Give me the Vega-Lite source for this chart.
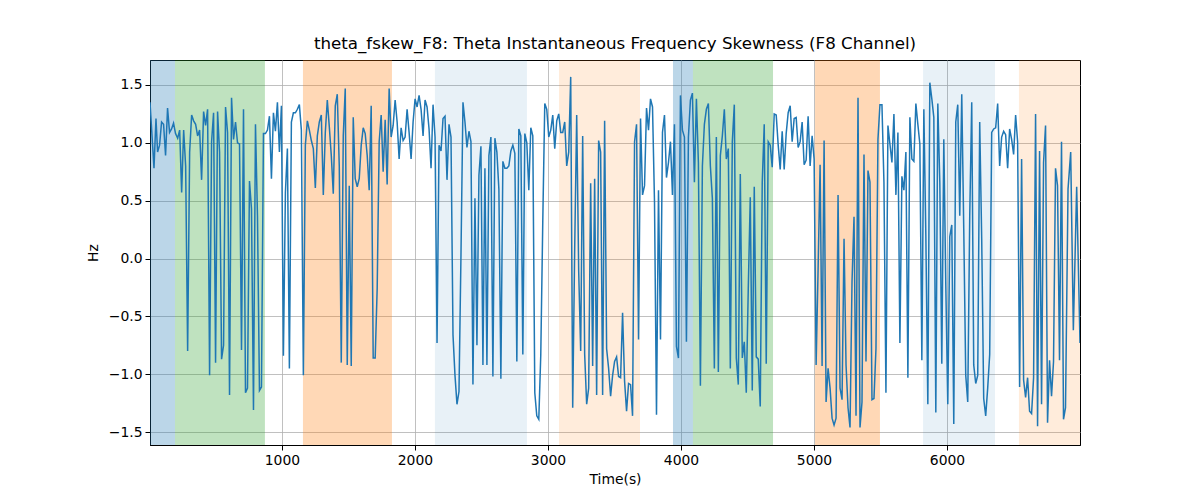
{
 "$schema": "https://vega.github.io/schema/vega-lite/v6.json",
 "width": 930, "height": 385,
 "autosize": "none",
 "padding": {"left": 150, "top": 60, "right": 120, "bottom": 55},
 "background": "white",
 "title": {"text": "theta_fskew_F8: Theta Instantaneous Frequency Skewness (F8 Channel)", "font": "DejaVu Sans", "fontSize": 16.7, "fontWeight": "normal", "color": "black", "offset": 7},
 "config": {
  "view": {"stroke": "black", "strokeWidth": 1},
  "axis": {"labelFont": "DejaVu Sans", "labelFontSize": 13.9, "labelColor": "black", "titleFont": "DejaVu Sans", "titleFontSize": 13.9, "titleFontWeight": "normal", "titleColor": "black", "tickColor": "black", "tickSize": 5, "domainColor": "black", "gridColor": "#b0b0b0", "gridWidth": 0.8, "labelPadding": 3}
 },
 "datasets": {
  "regions": [
   {"start": 8, "end": 196, "kind": "a"},
   {"start": 196, "end": 872, "kind": "b"},
   {"start": 1158, "end": 1827, "kind": "c"},
   {"start": 2150, "end": 2842, "kind": "d"},
   {"start": 3083, "end": 3692, "kind": "e"},
   {"start": 3940, "end": 4090, "kind": "a"},
   {"start": 4090, "end": 4692, "kind": "b"},
   {"start": 5008, "end": 5496, "kind": "c"},
   {"start": 5820, "end": 6361, "kind": "d"},
   {"start": 6541, "end": 7000, "kind": "e"}
  ],
  "series": [
   {"t":8,"v":1.35},{"t":38,"v":0.78},{"t":53,"v":1.21},{"t":65,"v":0.92},{"t":80,"v":0.98},{"t":95,"v":1.18},{"t":110,"v":1.16},{"t":125,"v":0.89},{"t":140,"v":1.30},{"t":155,"v":1.09},{"t":170,"v":1.12},{"t":185,"v":1.17},{"t":200,"v":1.08},{"t":216,"v":1.04},{"t":231,"v":1.11},{"t":246,"v":0.57},{"t":261,"v":1.11},{"t":276,"v":0.80},{"t":291,"v":-0.80},{"t":306,"v":0.92},{"t":321,"v":1.24},{"t":336,"v":1.19},{"t":351,"v":1.16},{"t":366,"v":1.06},{"t":381,"v":1.11},{"t":396,"v":0.68},{"t":411,"v":1.27},{"t":426,"v":1.15},{"t":441,"v":1.29},{"t":456,"v":-1.01},{"t":471,"v":1.01},{"t":486,"v":1.26},{"t":501,"v":-0.90},{"t":516,"v":1.27},{"t":531,"v":0.92},{"t":546,"v":-0.87},{"t":561,"v":-0.75},{"t":576,"v":1.31},{"t":591,"v":1.09},{"t":606,"v":-1.18},{"t":621,"v":1.39},{"t":636,"v":1.03},{"t":651,"v":1.18},{"t":666,"v":1.00},{"t":681,"v":0.99},{"t":696,"v":-0.79},{"t":711,"v":1.29},{"t":726,"v":-1.16},{"t":741,"v":-1.12},{"t":756,"v":0.67},{"t":771,"v":0.43},{"t":786,"v":-1.31},{"t":801,"v":1.16},{"t":816,"v":0.37},{"t":831,"v":-1.14},{"t":846,"v":-1.11},{"t":861,"v":1.08},{"t":876,"v":1.08},{"t":891,"v":1.11},{"t":906,"v":1.23},{"t":921,"v":0.69},{"t":936,"v":1.26},{"t":951,"v":1.10},{"t":966,"v":1.35},{"t":981,"v":0.92},{"t":996,"v":1.32},{"t":1011,"v":-0.84},{"t":1026,"v":0.57},{"t":1041,"v":0.95},{"t":1056,"v":-0.95},{"t":1071,"v":1.18},{"t":1086,"v":1.26},{"t":1101,"v":1.26},{"t":1116,"v":1.29},{"t":1131,"v":1.33},{"t":1146,"v":1.11},{"t":1161,"v":-1.01},
   {"t":1176,"v":0.98},{"t":1191,"v":1.19},{"t":1206,"v":1.11},{"t":1221,"v":1.02},{"t":1236,"v":0.95},{"t":1251,"v":0.61},{"t":1266,"v":1.06},{"t":1281,"v":1.18},{"t":1296,"v":1.24},{"t":1311,"v":0.55},{"t":1326,"v":1.09},{"t":1341,"v":1.37},{"t":1356,"v":1.14},{"t":1371,"v":0.89},{"t":1386,"v":0.56},{"t":1401,"v":1.32},{"t":1416,"v":1.42},{"t":1431,"v":0.80},{"t":1446,"v":-0.90},{"t":1461,"v":1.06},{"t":1476,"v":1.47},{"t":1491,"v":-0.92},{"t":1506,"v":0.63},{"t":1521,"v":-0.93},{"t":1536,"v":1.22},{"t":1551,"v":0.69},{"t":1566,"v":0.62},{"t":1581,"v":0.69},{"t":1596,"v":0.98},{"t":1611,"v":1.13},{"t":1626,"v":1.08},{"t":1641,"v":0.89},{"t":1656,"v":0.59},{"t":1671,"v":1.32},{"t":1686,"v":-0.86},{"t":1701,"v":-0.86},{"t":1716,"v":-0.26},{"t":1731,"v":1.01},{"t":1746,"v":1.24},{"t":1761,"v":0.75},{"t":1776,"v":1.20},{"t":1791,"v":0.64},{"t":1806,"v":1.47},{"t":1821,"v":1.05},{"t":1836,"v":1.15},{"t":1851,"v":1.37},{"t":1866,"v":1.18},{"t":1881,"v":0.86},{"t":1896,"v":1.13},{"t":1911,"v":1.02},{"t":1926,"v":1.05},{"t":1941,"v":1.29},{"t":1956,"v":1.09},{"t":1971,"v":0.86},{"t":1986,"v":1.18},{"t":2001,"v":1.38},{"t":2016,"v":1.31},{"t":2031,"v":1.41},{"t":2046,"v":1.29},{"t":2061,"v":1.06},{"t":2076,"v":1.37},{"t":2091,"v":1.31},{"t":2106,"v":1.12},{"t":2121,"v":0.78},{"t":2136,"v":1.33},{"t":2151,"v":1.05},{"t":2166,"v":-0.73},{"t":2181,"v":0.98},{"t":2196,"v":0.93},{"t":2211,"v":1.21},{"t":2226,"v":1.23},{"t":2241,"v":0.68},{"t":2256,"v":1.16},{"t":2271,"v":1.05},{"t":2286,"v":-0.66},{"t":2301,"v":-1.01},{"t":2316,"v":-1.26},{"t":2331,"v":-1.15},
   {"t":2346,"v":0.03},{"t":2361,"v":1.35},{"t":2376,"v":1.18},{"t":2391,"v":0.96},{"t":2406,"v":1.10},{"t":2421,"v":1.01},{"t":2436,"v":-1.09},{"t":2451,"v":0.52},{"t":2466,"v":-0.75},{"t":2481,"v":0.72},{"t":2496,"v":0.97},{"t":2511,"v":-0.92},{"t":2526,"v":0.78},{"t":2541,"v":-0.92},{"t":2556,"v":0.89},{"t":2571,"v":1.05},{"t":2586,"v":-1.02},{"t":2601,"v":1.04},{"t":2616,"v":0.92},{"t":2631,"v":0.60},{"t":2646,"v":-1.04},{"t":2661,"v":0.84},{"t":2676,"v":0.78},{"t":2691,"v":0.78},{"t":2706,"v":0.80},{"t":2721,"v":0.93},{"t":2736,"v":0.98},{"t":2751,"v":0.91},{"t":2766,"v":-0.89},{"t":2781,"v":1.12},{"t":2796,"v":1.06},{"t":2811,"v":-0.83},{"t":2826,"v":1.08},{"t":2841,"v":1.00},{"t":2856,"v":0.59},{"t":2871,"v":1.13},{"t":2886,"v":1.06},{"t":2901,"v":-1.16},{"t":2916,"v":-1.36},{"t":2931,"v":-1.39},{"t":2946,"v":-0.83},{"t":2961,"v":0.32},{"t":2976,"v":1.34},{"t":2991,"v":1.29},{"t":3006,"v":1.05},{"t":3021,"v":1.11},{"t":3036,"v":1.24},{"t":3051,"v":0.95},{"t":3066,"v":1.19},{"t":3081,"v":1.25},{"t":3096,"v":1.09},{"t":3111,"v":1.09},{"t":3126,"v":1.18},{"t":3141,"v":0.80},{"t":3156,"v":0.92},{"t":3171,"v":1.57},{"t":3186,"v":-1.29},{"t":3201,"v":0.09},{"t":3216,"v":1.24},{"t":3231,"v":-0.11},{"t":3246,"v":-0.80},{"t":3261,"v":1.06},{"t":3276,"v":-0.83},{"t":3291,"v":-1.26},{"t":3306,"v":-1.12},{"t":3321,"v":0.65},{"t":3336,"v":-0.93},{"t":3351,"v":0.69},{"t":3366,"v":-1.18},{"t":3381,"v":1.02},{"t":3396,"v":0.92},{"t":3411,"v":-1.18},{"t":3426,"v":1.19},{"t":3441,"v":-0.78},{"t":3456,"v":-0.95},{"t":3471,"v":-1.19},{"t":3486,"v":-1.01},
   {"t":3501,"v":-0.89},{"t":3516,"v":-0.85},{"t":3531,"v":-1.02},{"t":3546,"v":-1.03},{"t":3561,"v":-0.47},{"t":3576,"v":-1.06},{"t":3591,"v":-1.32},{"t":3606,"v":-1.08},{"t":3621,"v":-1.09},{"t":3636,"v":-1.36},{"t":3651,"v":1.01},{"t":3666,"v":1.16},{"t":3681,"v":-0.70},{"t":3696,"v":1.21},{"t":3711,"v":0.55},{"t":3726,"v":0.63},{"t":3741,"v":1.30},{"t":3756,"v":1.11},{"t":3771,"v":1.38},{"t":3786,"v":1.31},{"t":3801,"v":0.49},{"t":3816,"v":-1.35},{"t":3831,"v":0.59},{"t":3846,"v":-0.70},{"t":3861,"v":1.09},{"t":3876,"v":1.24},{"t":3891,"v":0.70},{"t":3906,"v":0.83},{"t":3921,"v":1.01},{"t":3936,"v":0.55},{"t":3951,"v":1.16},{"t":3966,"v":-0.76},{"t":3981,"v":-0.86},{"t":3996,"v":1.41},{"t":4011,"v":1.11},{"t":4026,"v":1.05},{"t":4041,"v":-0.72},{"t":4056,"v":1.05},{"t":4071,"v":1.37},{"t":4086,"v":1.43},{"t":4101,"v":0.66},{"t":4116,"v":1.38},{"t":4131,"v":0.83},{"t":4146,"v":-1.10},{"t":4161,"v":0.80},{"t":4176,"v":1.16},{"t":4191,"v":1.29},{"t":4206,"v":1.34},{"t":4221,"v":0.80},{"t":4236,"v":0.52},{"t":4251,"v":-0.95},{"t":4266,"v":1.05},{"t":4281,"v":-0.98},{"t":4296,"v":0.89},{"t":4311,"v":1.06},{"t":4326,"v":1.29},{"t":4341,"v":0.86},{"t":4356,"v":0.95},{"t":4371,"v":-0.95},{"t":4386,"v":1.01},{"t":4401,"v":1.33},{"t":4416,"v":-0.86},{"t":4431,"v":-1.09},{"t":4446,"v":0.73},{"t":4461,"v":-0.86},{"t":4476,"v":-0.72},{"t":4491,"v":-1.16},{"t":4506,"v":-0.26},{"t":4521,"v":0.53},{"t":4536,"v":-1.14},{"t":4551,"v":0.62},{"t":4566,"v":-0.85},{"t":4581,"v":-0.87},{"t":4596,"v":-1.28},{"t":4611,"v":0.66},{"t":4626,"v":1.16},{"t":4641,"v":-0.91},{"t":4656,"v":1.01},
   {"t":4671,"v":0.98},{"t":4686,"v":0.79},{"t":4701,"v":1.25},{"t":4716,"v":1.24},{"t":4731,"v":0.98},{"t":4746,"v":0.77},{"t":4761,"v":1.10},{"t":4776,"v":0.77},{"t":4791,"v":1.08},{"t":4806,"v":1.26},{"t":4821,"v":1.32},{"t":4836,"v":1.01},{"t":4851,"v":1.21},{"t":4866,"v":1.22},{"t":4881,"v":0.96},{"t":4896,"v":1.01},{"t":4911,"v":1.18},{"t":4926,"v":0.81},{"t":4941,"v":0.85},{"t":4956,"v":1.23},{"t":4971,"v":0.80},{"t":4986,"v":1.06},{"t":5001,"v":0.86},{"t":5016,"v":-0.92},{"t":5031,"v":-0.09},{"t":5046,"v":0.81},{"t":5061,"v":-0.93},{"t":5076,"v":1.02},{"t":5091,"v":-1.24},{"t":5106,"v":-0.95},{"t":5121,"v":-1.12},{"t":5136,"v":-1.38},{"t":5151,"v":-1.44},{"t":5166,"v":-1.38},{"t":5181,"v":0.55},{"t":5196,"v":-1.12},{"t":5211,"v":-1.22},{"t":5226,"v":0.17},{"t":5241,"v":-0.92},{"t":5256,"v":-1.29},{"t":5271,"v":-1.46},{"t":5286,"v":-0.20},{"t":5301,"v":0.36},{"t":5316,"v":-1.36},{"t":5331,"v":1.39},{"t":5346,"v":-1.46},{"t":5361,"v":-1.24},{"t":5376,"v":0.90},{"t":5391,"v":-0.89},{"t":5406,"v":0.76},{"t":5421,"v":0.66},{"t":5436,"v":-1.22},{"t":5451,"v":-1.21},{"t":5466,"v":-0.78},{"t":5481,"v":1.03},{"t":5496,"v":1.33},{"t":5511,"v":1.33},{"t":5526,"v":0.66},{"t":5541,"v":-1.16},{"t":5556,"v":1.15},{"t":5571,"v":0.99},{"t":5586,"v":0.83},{"t":5601,"v":1.25},{"t":5616,"v":0.55},{"t":5631,"v":1.09},{"t":5646,"v":-0.73},{"t":5661,"v":0.71},{"t":5676,"v":0.59},{"t":5691,"v":0.92},{"t":5706,"v":-1.03},{"t":5721,"v":1.22},{"t":5736,"v":0.86},{"t":5751,"v":0.84},{"t":5766,"v":1.34},{"t":5781,"v":1.16},{"t":5796,"v":0.99},{"t":5811,"v":-0.88},
   {"t":5826,"v":1.29},{"t":5841,"v":0.20},{"t":5856,"v":-1.26},{"t":5871,"v":1.52},{"t":5886,"v":1.38},{"t":5901,"v":1.22},{"t":5916,"v":-1.33},{"t":5931,"v":1.34},{"t":5946,"v":0.66},{"t":5961,"v":-0.91},{"t":5976,"v":1.03},{"t":5991,"v":-0.23},{"t":6006,"v":-1.26},{"t":6021,"v":0.19},{"t":6036,"v":0.29},{"t":6051,"v":-1.43},{"t":6066,"v":1.18},{"t":6081,"v":1.33},{"t":6096,"v":0.37},{"t":6111,"v":1.42},{"t":6126,"v":0.26},{"t":6141,"v":-1.01},{"t":6156,"v":-1.24},{"t":6171,"v":0.37},{"t":6186,"v":1.35},{"t":6201,"v":-0.92},{"t":6216,"v":-1.08},{"t":6231,"v":-1.01},{"t":6246,"v":1.18},{"t":6261,"v":0.17},{"t":6276,"v":-1.21},{"t":6291,"v":-1.36},{"t":6306,"v":-1.12},{"t":6321,"v":-0.83},{"t":6336,"v":1.09},{"t":6351,"v":1.12},{"t":6366,"v":1.13},{"t":6381,"v":1.34},{"t":6396,"v":0.80},{"t":6411,"v":1.05},{"t":6426,"v":1.10},{"t":6441,"v":1.07},{"t":6456,"v":0.78},{"t":6471,"v":1.12},{"t":6486,"v":1.03},{"t":6501,"v":0.90},{"t":6516,"v":1.24},{"t":6531,"v":1.01},{"t":6546,"v":-1.11},{"t":6561,"v":0.86},{"t":6576,"v":-1.05},{"t":6591,"v":-1.20},{"t":6606,"v":-1.03},{"t":6621,"v":-1.32},{"t":6636,"v":-1.34},{"t":6651,"v":-1.03},{"t":6666,"v":1.25},{"t":6681,"v":-1.45},{"t":6696,"v":0.93},{"t":6711,"v":-1.26},{"t":6726,"v":0.83},{"t":6741,"v":1.15},{"t":6756,"v":-1.42},{"t":6771,"v":-0.88},{"t":6786,"v":-1.19},{"t":6801,"v":-0.89},{"t":6816,"v":0.78},{"t":6831,"v":0.63},{"t":6846,"v":-0.88},{"t":6861,"v":1.01},{"t":6876,"v":-1.39},{"t":6891,"v":-1.29},{"t":6910,"v":0.60},{"t":6930,"v":0.92},{"t":6950,"v":-0.62},{"t":6975,"v":0.62},{"t":7000,"v":-0.73}
  ]
 },
 "layer": [
  {
   "data": {"name": "regions"},
   "mark": {"type": "rect", "fillOpacity": 1},
   "encoding": {
    "x": {"field": "start", "type": "quantitative", "scale": {"domain": [8, 7000], "nice": false, "zero": false}, "axis": {"title": "Time(s)", "values": [1000, 2000, 3000, 4000, 5000, 6000], "format": "d", "grid": true, "titlePadding": 6}},
    "x2": {"field": "end"},
    "color": {"field": "kind", "type": "nominal", "scale": {"domain": ["a", "b", "c", "d", "e"], "range": ["rgba(31,119,180,0.3)", "rgba(44,160,44,0.3)", "rgba(255,127,14,0.3)", "rgba(31,119,180,0.1)", "rgba(255,127,14,0.15)"]}, "legend": null}
   }
  },
  {
   "data": {"name": "series"},
   "mark": {"type": "line", "color": "#1f77b4", "strokeWidth": 1.5, "clip": true},
   "encoding": {
    "x": {"field": "t", "type": "quantitative"},
    "y": {"field": "v", "type": "quantitative", "scale": {"domain": [-1.612, 1.716], "nice": false, "zero": false}, "axis": {"title": "Hz", "values": [-1.5, -1.0, -0.5, 0.0, 0.5, 1.0, 1.5], "format": ".1f", "grid": true, "titlePadding": 8}}
   }
  }
 ]
}
